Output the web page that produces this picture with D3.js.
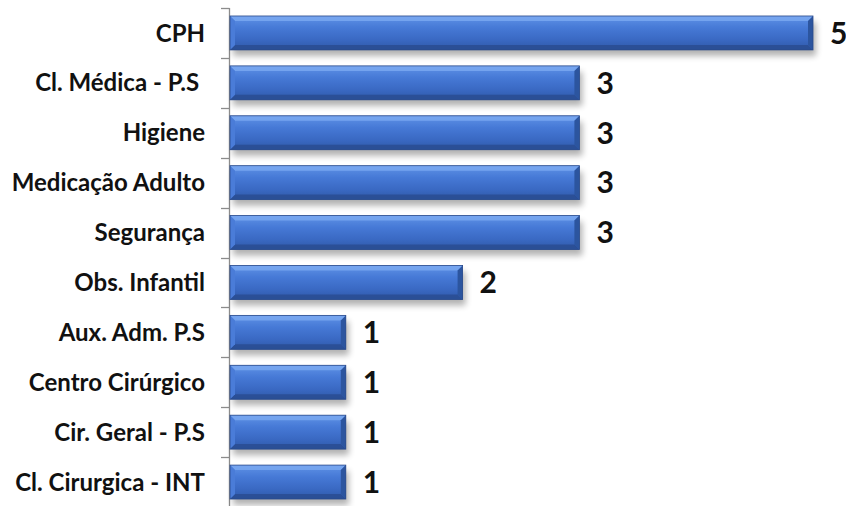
<!DOCTYPE html>
<html><head><meta charset="utf-8">
<script src="https://cdn.jsdelivr.net/npm/d3@7"></script>
<style>body{margin:0;background:#fff}svg{display:block}text{white-space:pre}</style>
</head><body>
<svg id="c" width="846" height="506"></svg>
<script>
const categories = ["CPH","Cl. Médica - P.S ","Higiene","Medicação Adulto","Segurança","Obs. Infantil","Aux. Adm. P.S","Centro Cirúrgico","Cir. Geral - P.S","Cl. Cirurgica - INT"];
const values = [5,3,3,3,3,2,1,1,1,1];

const svg = d3.select("#c");
const x = d3.scaleLinear().domain([0,5]).range([229,813]);
const y = d3.scaleBand().domain(categories).range([8,507]).padding(0);
const barH = y.bandwidth()*0.68;
const defs = svg.append("defs");
const g1 = defs.append("linearGradient").attr("id","bg").attr("x1",0).attr("y1",0).attr("x2",0).attr("y2",1);
[[0,"#5f92e6"],[0.35,"#4679d6"],[0.7,"#3a69c3"],[1,"#2f59a8"]].forEach(([o,c])=>g1.append("stop").attr("offset",o).attr("stop-color",c));
const f = defs.append("filter").attr("id","sh").attr("x","-5%").attr("y","-50%").attr("width","115%").attr("height","220%");
f.append("feGaussianBlur").attr("stdDeviation",3);

// axis
svg.append("line").attr("x1",229.5).attr("x2",229.5).attr("y1",8).attr("y2",507).attr("stroke","#8c8c8c").attr("stroke-width",1.3);
const bounds = categories.map(c=>y(c)).concat([y.range()[1]]);
svg.selectAll(".tk").data(bounds).join("line").attr("x1",221).attr("x2",229.5)
  .attr("y1",d=>Math.round(d)+0.5).attr("y2",d=>Math.round(d)+0.5).attr("stroke","#8c8c8c").attr("stroke-width",1.3);

const data = categories.map((c,i)=>({c,v:values[i]}));
const rows = svg.selectAll(".row").data(data).join("g").attr("class","row");
const b = 5;
rows.each(function(d){
  const gg = d3.select(this);
  const x0 = x(0)+1, x1 = x(d.v), y0 = y(d.c)+(y.bandwidth()-barH)/2, y1 = y0+barH;
  gg.append("rect").attr("x",x0+3).attr("y",y0+6).attr("width",x1-x0).attr("height",barH).attr("fill","#000").attr("opacity",0.3).attr("filter","url(#sh)");
  gg.append("rect").attr("x",x0).attr("y",y0).attr("width",x1-x0).attr("height",barH).attr("fill","url(#bg)");
  // bevels
  gg.append("polygon").attr("points",`${x0},${y0} ${x1},${y0} ${x1-b},${y0+b} ${x0+b},${y0+b}`).attr("fill","#78a6f0").attr("opacity",0.9);
  gg.append("polygon").attr("points",`${x0},${y1} ${x1},${y1} ${x1-b},${y1-b} ${x0+b},${y1-b}`).attr("fill","#2a4e94").attr("opacity",0.9);
  gg.append("polygon").attr("points",`${x0},${y0} ${x0+b},${y0+b} ${x0+b},${y1-b} ${x0},${y1}`).attr("fill","#4a7cd8");
  gg.append("polygon").attr("points",`${x1},${y0} ${x1-b},${y0+b} ${x1-b},${y1-b} ${x1},${y1}`).attr("fill","#2c559f");
  gg.append("rect").attr("x",x0).attr("y",y0).attr("width",x1-x0).attr("height",barH).attr("fill","none").attr("stroke","#2a4a8a").attr("stroke-width",0.8);
  gg.append("text").attr("x",x1+17).attr("y",y0+barH/2).attr("dy","0.36em")
    .attr("font-family","Lato, 'Open Sans', sans-serif").attr("font-weight","bold").attr("font-size",30).attr("fill","#111").text(d.v);
  gg.append("text").attr("x",205).attr("y",y0+barH/2).attr("dy","0.36em").attr("text-anchor","end")
    .attr("font-family","Lato, 'Open Sans', sans-serif").attr("font-weight","bold").attr("font-size",24).attr("fill","#111").text(d.c);
});
</script>
</body></html>
